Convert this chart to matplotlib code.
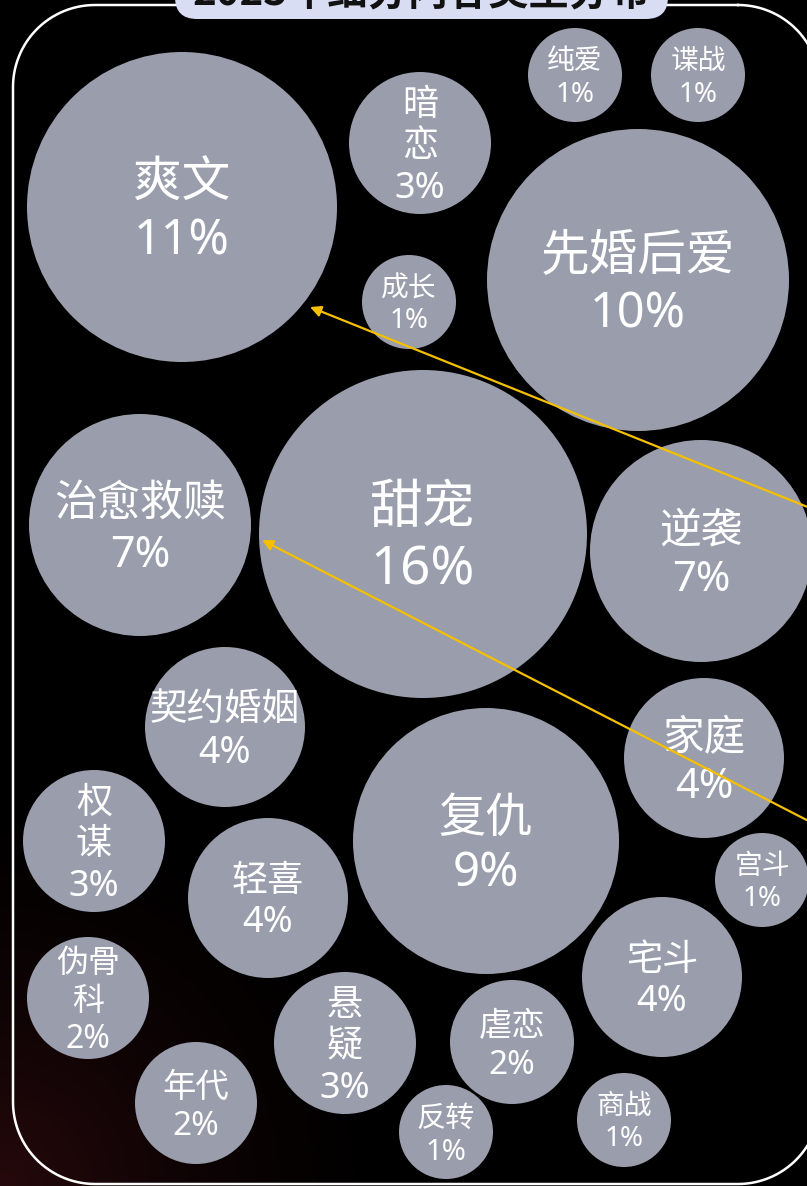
import numpy as np
import matplotlib.pyplot as plt
from matplotlib.patches import Circle, FancyBboxPatch

plt.rcParams['font.family'] = ['Noto Sans CJK SC', 'DejaVu Sans']

# data
labels = ['爽文', '暗恋', '纯爱', '谍战', '先婚后爱', '成长', '甜宠', '治愈救赎',
          '逆袭', '家庭', '契约婚姻', '复仇', '权谋', '轻喜', '宫斗', '宅斗',
          '伪骨科', '悬疑', '虐恋', '年代', '反转', '商战']
shares = [11, 3, 1, 1, 10, 1, 16, 7, 7, 4, 4, 9, 3, 4, 1, 4, 2, 3, 2, 2, 1, 1]
# how the name is broken over lines inside small bubbles
label_text = ['爽文', '暗\n恋', '纯爱', '谍战', '先婚后爱', '成长', '甜宠', '治愈救赎',
              '逆袭', '家庭', '契约婚姻', '复仇', '权\n谋', '轻喜', '宫斗', '宅斗',
              '伪骨\n科', '悬\n疑', '虐恋', '年代', '反转', '商战']
title = '2023年细分内容类型分布'

# bubble layout (pixel space, y downwards)
cx = [182, 420, 575, 698, 638, 409, 423, 140, 701, 704, 225, 486, 94, 268, 762, 662,
      88, 345, 512, 196, 446, 624]
cy = [207, 143, 75, 75, 280, 302, 534, 525, 551, 758, 727, 841, 841, 898, 880, 977,
      998, 1043, 1042, 1103, 1132, 1120]
rad = [155, 71, 47, 47, 151, 47, 164, 111, 111, 80, 80, 133, 71, 80, 47, 80,
       61, 71, 62, 61, 47, 47]
fsz = [35, 26, 20, 20, 35, 20, 38, 31, 30, 30, 27, 34, 26, 26, 20, 26,
       23, 26, 24, 24, 21, 20]

W, H = 807, 1186
fig = plt.figure(figsize=(W / 100, H / 100), dpi=100)
fig.patch.set_facecolor('black')
ax = fig.add_axes([0, 0, 1, 1])

# dark background with a faint red glow at bottom left
yy, xx = np.mgrid[0:H:2, 0:W:2]
d = np.sqrt(xx ** 2 + (H - yy) ** 2)
g = np.clip(1 - d / 420, 0, 1) ** 1.6
bg = np.zeros(xx.shape + (3,))
bg[..., 0] = 0.15 * g
bg[..., 1] = 0.035 * g
bg[..., 2] = 0.045 * g
ax.imshow(bg, extent=(0, W, H, 0), zorder=0, aspect='auto')
ax.set_xlim(0, W)
ax.set_ylim(H, 0)
ax.axis('off')

# white rounded frame (right side runs just past the edge)
L, R, T, B, rc = 13, 820, 5, 1184, 82
t = np.linspace(0, np.pi / 2, 30)
fx = np.concatenate([R - rc + rc * np.sin(t), R - rc + rc * np.cos(t),
                     L + rc - rc * np.sin(t), L + rc - rc * np.cos(t)])
fy = np.concatenate([T + rc - rc * np.cos(t), B - rc + rc * np.sin(t),
                     B - rc + rc * np.cos(t), T + rc - rc * np.sin(t)])
ax.plot(np.append(fx, fx[0]), np.append(fy, fy[0]), color='white', lw=1.8, zorder=1)

for lab, s, x, y, r, fs in zip(label_text, shares, cx, cy, rad, fsz):
    ax.add_patch(Circle((x, y), r, color='#9a9dac', lw=0, zorder=2))
    ax.text(x, y + 0.17 * fs, f'{lab}\n{s}%', ha='center', va='center',
            multialignment='center', color='white', fontsize=fs, linespacing=1.2,
            family=['Noto Sans', 'Noto Sans CJK SC'], fontweight='light', zorder=3)

# yellow pointer lines
for tip, start in [((310, 307), (830, 516)), ((262, 540), (830, 832))]:
    ax.annotate('', xy=tip, xytext=start, annotation_clip=False, zorder=4,
                arrowprops=dict(arrowstyle='-|>', color='#f5c000', lw=1.6,
                                mutation_scale=16, shrinkA=0, shrinkB=0))

# title badge, cut off by the top edge
ax.add_patch(FancyBboxPatch((175, -40), 493, 59, boxstyle='round,pad=0,rounding_size=22',
                            fc='#d9ddf3', ec='none', zorder=5, clip_on=False))
ax.text(421, -6, title, ha='center', va='center', fontsize=29, fontweight='bold',
        color='#111111', zorder=6)

fig.savefig('out.png', dpi=100, facecolor='black')
